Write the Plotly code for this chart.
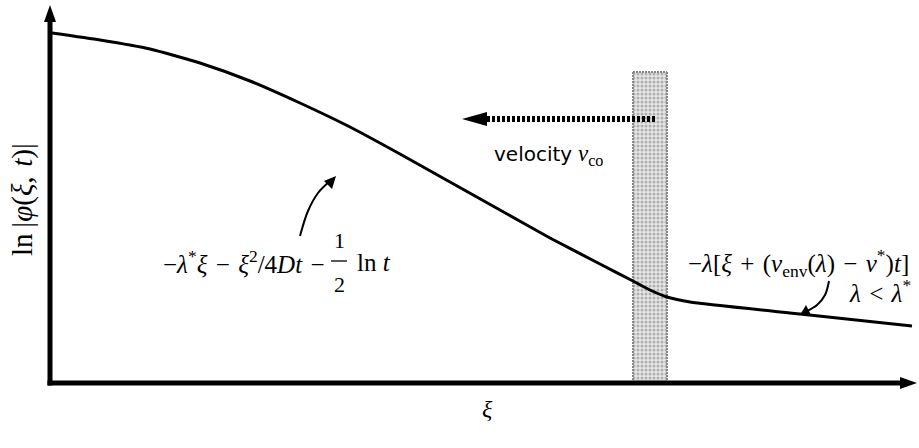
import plotly.graph_objects as go

# ---- data (schematic profile, screen-like units, y grows downward) ----
curve_x = [52, 100, 150, 200, 250, 300, 350, 400, 450, 500, 550, 600, 633, 650, 667, 690, 800, 912]
curve_y = [33, 40, 49, 63, 81, 103, 127, 154, 182, 210, 238, 264, 281, 290, 297, 302, 314, 326]

band_x = [650]          # centre of shaded interface band
band_w = [34]
band_top = [72]
band_bottom = [383]

x_label = "<i>ξ</i>"
y_label = "ln&#8201;|<i>φ</i>(<i>ξ</i>,&#8196;<i>t</i>)|"

ORIGIN_X, ORIGIN_Y = 50, 383
X_END, Y_END = 917, 5

SERIF = "Liberation Serif, DejaVu Serif, serif"
SP = "&#8196;"  # math spacing around binary operators

fig = go.Figure()

# shaded band
fig.add_trace(go.Bar(
    x=band_x, y=[band_bottom[0] - band_top[0]], base=band_top, width=band_w,
    marker=dict(color="#eeeeee",
                pattern=dict(shape=".", fgcolor="#777777", bgcolor="#e6e6e6", size=4, solidity=0.45),
                line=dict(width=0)),
    hoverinfo="skip", showlegend=False))
for bx in (band_x[0] - band_w[0] / 2, band_x[0] + band_w[0] / 2):
    fig.add_trace(go.Scatter(x=[bx, bx], y=[band_top[0], band_bottom[0]], mode="lines",
                             line=dict(color="#888888", width=2, dash="2px,1px"),
                             hoverinfo="skip", showlegend=False))
fig.add_trace(go.Scatter(x=[band_x[0] - band_w[0] / 2, band_x[0] + band_w[0] / 2], y=[band_top[0]] * 2,
                         mode="lines", line=dict(color="#888888", width=2, dash="2px,1px"),
                         hoverinfo="skip", showlegend=False))

# main profile
fig.add_trace(go.Scatter(x=curve_x, y=curve_y, mode="lines",
                         line=dict(color="black", width=3, shape="spline", smoothing=0.5),
                         hoverinfo="skip", showlegend=False))

# dotted velocity arrow
arrow_y = 119
fig.add_trace(go.Scatter(x=[655, 484], y=[arrow_y, arrow_y], mode="lines",
                         line=dict(color="black", width=6, dash="3px,2px"),
                         hoverinfo="skip", showlegend=False))
fig.add_shape(type="path", path=f"M 462 {arrow_y} L 487 {arrow_y-7} L 487 {arrow_y+7} Z",
              fillcolor="black", line=dict(width=0))

# curved pointer arrows
fig.add_trace(go.Scatter(x=[300, 308, 318, 330], y=[236, 211, 193, 181], mode="lines",
                         line=dict(color="black", width=2, shape="spline"),
                         hoverinfo="skip", showlegend=False))
fig.add_shape(type="path", path="M 336 176 L 324 181 L 332 189 Z", fillcolor="black", line=dict(width=0))

fig.add_trace(go.Scatter(x=[829, 825, 817, 807], y=[281, 295, 305, 311], mode="lines",
                         line=dict(color="black", width=2, shape="spline"),
                         hoverinfo="skip", showlegend=False))
fig.add_shape(type="path", path="M 800 315 L 806 305 L 811 315 Z", fillcolor="black", line=dict(width=0))

# axes
fig.add_shape(type="line", x0=ORIGIN_X, y0=ORIGIN_Y + 2.5, x1=ORIGIN_X, y1=Y_END + 12,
              line=dict(color="black", width=5))
fig.add_shape(type="line", x0=ORIGIN_X - 2.5, y0=ORIGIN_Y, x1=X_END - 12, y1=ORIGIN_Y,
              line=dict(color="black", width=5))
fig.add_shape(type="path", path=f"M {ORIGIN_X} {Y_END} L {ORIGIN_X-6} {Y_END+17} L {ORIGIN_X+6} {Y_END+17} Z",
              fillcolor="black", line=dict(width=0))
fig.add_shape(type="path", path=f"M {X_END} {ORIGIN_Y} L {X_END-17} {ORIGIN_Y-6} L {X_END-17} {ORIGIN_Y+6} Z",
              fillcolor="black", line=dict(width=0))

ann = []
def txt(x, y, s, size=25, font=SERIF, xanchor="center", angle=0):
    ann.append(dict(x=x, y=y, text=s, showarrow=False, xanchor=xanchor, yanchor="middle",
                    textangle=angle, font=dict(family=font, size=size, color="black")))

txt(487, 409, x_label, size=24)
txt(22, 200, y_label, size=29, angle=-90)

# velocity label
ann.append(dict(x=548, y=155, showarrow=False, xanchor="center", yanchor="middle",
                text="<span style='font-family:DejaVu Sans;font-size:20px'>velocity</span> <i>v</i><sub>co</sub>",
                font=dict(family=SERIF, size=23, color="black")))

# left formula with stacked 1/2
txt(327, 262, f"−<i>λ</i><sup>*</sup><i>ξ</i>{SP}−{SP}<i>ξ</i><sup>2</sup>/4<i>Dt</i>{SP}−", xanchor="right")
txt(339, 240, "1", size=22)
txt(339, 284, "2", size=22)
fig.add_shape(type="line", x0=331, x1=347, y0=261, y1=261, line=dict(color="black", width=1.3))
txt(355, 262, "ln <i>t</i>", xanchor="left")

# right formula
txt(911, 263, f"−<i>λ</i>[<i>ξ</i>{SP}+{SP}(<i>v</i><sub>env</sub>(<i>λ</i>){SP}−{SP}<i>v</i><sup>*</sup>)<i>t</i>]", xanchor="right")
txt(913, 291, f"<i>λ</i>{SP}&lt;{SP}<i>λ</i><sup>*</sup>", xanchor="right")

fig.update_layout(
    width=919, height=448, margin=dict(l=0, r=0, t=0, b=0),
    paper_bgcolor="white", plot_bgcolor="white",
    xaxis=dict(range=[0, 919], visible=False, fixedrange=True),
    yaxis=dict(range=[448, 0], visible=False, fixedrange=True),
    annotations=ann, showlegend=False, bargap=0,
)

fig.write_html("out.html", config={"displayModeBar": False},
               post_script="document.body.style.margin='0';document.body.style.overflow='hidden';")
